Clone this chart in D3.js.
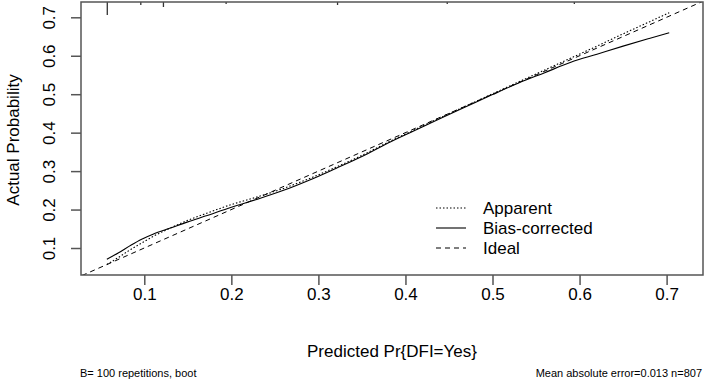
<!DOCTYPE html>
<html><head><meta charset="utf-8">
<script src="https://cdn.jsdelivr.net/npm/d3@7"></script>
<style>body{margin:0;background:#fff}svg{display:block}text{font-family:"Liberation Sans",Arial,sans-serif;fill:#000}</style>
</head><body><svg id="c" width="706" height="380"></svg>
<script>
const predicted = [0.057,0.07,0.085,0.097,0.11,0.13,0.15,0.17,0.2,0.23,0.26,0.29,0.32,0.35,0.38,0.41,0.44,0.47,0.5,0.53,0.56,0.59,0.62,0.65,0.68,0.703];
const biasCorrected = [0.071,0.087,0.108,0.123,0.136,0.152,0.168,0.183,0.206,0.227,0.250,0.277,0.307,0.338,0.373,0.405,0.437,0.468,0.499,0.529,0.556,0.583,0.604,0.625,0.645,0.660];
const apparent = [0.057,0.075,0.097,0.113,0.130,0.152,0.172,0.189,0.213,0.233,0.255,0.281,0.310,0.341,0.375,0.407,0.439,0.470,0.501,0.532,0.563,0.594,0.625,0.657,0.688,0.712];
const rugX = [0.0575,0.096,0.122,0.194,0.322,0.448,0.594];
const rugH = [13,3,5,2,3,2,2];
const xTicks = [0.1,0.2,0.3,0.4,0.5,0.6,0.7];
const yTicks = [0.1,0.2,0.3,0.4,0.5,0.6,0.7];
const legendLabels = ["Apparent","Bias-corrected","Ideal"];
const xDomain = [0.0273,0.7418], yDomain = [0.0298,0.7398];

const svg = d3.select("#c");
const L=81,R=703,T=2,B=275;
const FS=17;
const x = d3.scaleLinear().domain(xDomain).range([L,R]);
const y = d3.scaleLinear().domain(yDomain).range([B,T]);
const g = svg.append("g");
svg.append("clipPath").attr("id","cp").append("rect").attr("x",L).attr("y",T).attr("width",R-L).attr("height",B-T);

// ideal
g.append("line").attr("clip-path","url(#cp)")
 .attr("x1",x(0)).attr("y1",y(0)).attr("x2",x(1)).attr("y2",y(1))
 .attr("stroke","#000").attr("stroke-width",1).attr("stroke-dasharray","5,4");
const line = d3.line().x((d,i)=>x(predicted[i])).y(d=>y(d)).curve(d3.curveMonotoneX);
g.append("path").datum(apparent).attr("d",line).attr("fill","none").attr("stroke","#000").attr("stroke-width",1.1).attr("stroke-dasharray","1.5,2");
g.append("path").datum(biasCorrected).attr("d",line).attr("fill","none").attr("stroke","#000").attr("stroke-width",1.1);

// rug at top
g.selectAll(".rug").data(rugX).join("line")
 .attr("x1",d=>x(d)).attr("x2",d=>x(d)).attr("y1",T).attr("y2",(d,i)=>T+rugH[i])
 .attr("stroke","#333").attr("stroke-width",1.3);

// box
g.append("rect").attr("x",L).attr("y",T).attr("width",R-L).attr("height",B-T)
 .attr("fill","none").attr("stroke","#555").attr("stroke-width",1.5);

// x axis
const xa = svg.append("g").attr("transform",`translate(0,${B})`)
 .call(d3.axisBottom(x).tickValues(xTicks).tickSize(10).tickPadding(3).tickFormat(d3.format(".1f")));
xa.select(".domain").remove();
xa.selectAll("line").attr("stroke","#555").attr("stroke-width",1.5);
xa.selectAll("text").attr("font-size",FS).attr("fill","#000").attr("font-family","Liberation Sans, Arial, sans-serif");

// y axis
const ya = svg.append("g").attr("transform",`translate(${L},0)`)
 .call(d3.axisLeft(y).tickValues(yTicks).tickSize(10).tickFormat(d3.format(".1f")));
ya.select(".domain").remove();
ya.selectAll("line").attr("stroke","#555").attr("stroke-width",1.5);
ya.selectAll(".tick text").attr("font-size",FS).attr("fill","#000").attr("font-family","Liberation Sans, Arial, sans-serif")
 .attr("x",0).attr("y",0).attr("dy",null).attr("text-anchor","middle").attr("dominant-baseline","middle")
 .attr("transform","translate(-30,0) rotate(-90)");

svg.append("text").attr("x",392).attr("y",357).attr("text-anchor","middle").attr("font-size",FS).text("Predicted Pr{DFI=Yes}");
svg.append("text").attr("transform","translate(19,140) rotate(-90)").attr("text-anchor","middle").attr("font-size",FS).text("Actual Probability");
svg.append("text").attr("x",80).attr("y",377).attr("font-size",11).text("B= 100 repetitions, boot");
svg.append("text").attr("x",702).attr("y",377).attr("text-anchor","end").attr("font-size",11).text("Mean absolute error=0.013 n=807");

// legend
const dashes = ["1.5,2",null,"5,4"];
const lg = svg.append("g");
legendLabels.forEach((t,i)=>{
  const yy = 208 + i*20;
  lg.append("line").attr("x1",436).attr("x2",466).attr("y1",yy).attr("y2",yy).attr("stroke","#000").attr("stroke-width",1.1).attr("stroke-dasharray",dashes[i]);
  lg.append("text").attr("x",483).attr("y",yy+6).attr("font-size",FS).text(t);
});
</script></body></html>
